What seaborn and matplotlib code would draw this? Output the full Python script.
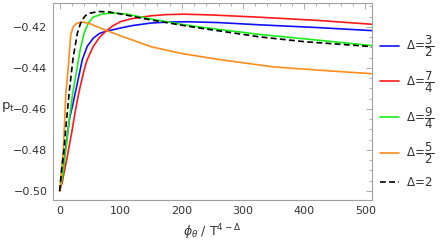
import matplotlib
matplotlib.use("Agg")
import matplotlib.pyplot as plt
import seaborn as sns
import pandas as pd
from matplotlib.ticker import MultipleLocator

# Delta = 3/2 (blue)
x_32 = [0, 4, 8, 12, 16, 22, 29, 37, 45, 55, 65, 75, 90, 100, 120, 150, 180, 210, 260, 328, 420, 510]
y_32 = [-0.500, -0.493, -0.483, -0.474, -0.465, -0.457, -0.4473, -0.436, -0.4295, -0.4255, -0.4232,
        -0.4222, -0.4212, -0.4205, -0.4193, -0.4181, -0.4176, -0.4175, -0.4179, -0.419, -0.4203, -0.4218]
# Delta = 7/4 (red)
x_74 = [0, 4, 8, 12, 15, 20, 25, 31, 35, 40, 45, 55, 65, 75, 88, 100, 116, 149, 175, 203, 250, 328, 420, 510]
y_74 = [-0.500, -0.496, -0.4898, -0.484, -0.479, -0.471, -0.462, -0.4525, -0.4473, -0.441, -0.436,
        -0.4295, -0.4252, -0.4222, -0.4193, -0.4174, -0.4161, -0.4146, -0.4140, -0.4138, -0.4142,
        -0.4153, -0.4168, -0.4187]
# Delta = 9/4 (green)
x_94 = [0, 5, 10, 15, 21, 28, 33, 40, 47, 55, 70, 90, 110, 130, 149, 200, 230, 328, 420, 510]
y_94 = [-0.500, -0.492, -0.480, -0.467, -0.453, -0.441, -0.432, -0.423, -0.418, -0.4152, -0.4137,
        -0.4132, -0.4138, -0.4150, -0.4161, -0.4188, -0.4201, -0.4237, -0.4264, -0.4291]
# Delta = 5/2 (orange)
x_52 = [0, 3, 6, 10, 13, 15, 18, 22, 28, 38, 50, 70, 100, 150, 200, 263, 350, 443, 510]
y_52 = [-0.500, -0.4898, -0.480, -0.453, -0.443, -0.436, -0.424, -0.420, -0.4182, -0.4176, -0.4185,
        -0.421, -0.4244, -0.4297, -0.433, -0.436, -0.4395, -0.4415, -0.4428]
# Delta = 2 (black dashed)
x_2 = [0, 3, 7, 11, 16, 22, 29, 35, 42, 50, 64, 80, 100, 130, 149, 200, 230, 328, 400, 510]
y_2 = [-0.500, -0.490, -0.480, -0.466, -0.4507, -0.435, -0.423, -0.4175, -0.4145, -0.4133, -0.4125,
       -0.4127, -0.4137, -0.4155, -0.4166, -0.4192, -0.4206, -0.4249, -0.4272, -0.4296]

labels = [r"$\Delta\!=\!\dfrac{3}{2}$", r"$\Delta\!=\!\dfrac{7}{4}$", r"$\Delta\!=\!\dfrac{9}{4}$",
          r"$\Delta\!=\!\dfrac{5}{2}$", r"$\Delta\!=\!2$"]
colors = ["#1010ff", "#ff1a1a", "#1aee1a", "#ff8c1a", "black"]
series = [(x_32, y_32), (x_74, y_74), (x_94, y_94), (x_52, y_52), (x_2, y_2)]

sns.set_style("white")
plt.rcParams["mathtext.fontset"] = "dejavusans"

fig = plt.figure(figsize=(4.45, 2.41), dpi=100)
ax = fig.add_axes([0.119, 0.170, 0.717, 0.818])

for (xs, ys), lab, col in zip(series, labels, colors):
    df = pd.DataFrame({"x": xs, "y": ys})
    sns.lineplot(data=df, x="x", y="y", ax=ax, color=col, lw=1.2, label=lab)
ax.lines[-1].set_dashes((3.5, 2))

ax.set_xlim(-11, 511)
ax.set_ylim(-0.5044, -0.4083)
ax.xaxis.set_major_locator(MultipleLocator(100))
ax.xaxis.set_minor_locator(MultipleLocator(20))
ax.yaxis.set_major_locator(MultipleLocator(0.02))
ax.yaxis.set_minor_locator(MultipleLocator(0.005))
ax.yaxis.set_major_formatter(plt.FuncFormatter(lambda v, p: f"{v:.2f}".replace("-", "\u2212")))

for s in ax.spines.values():
    s.set_color("#a0a0a0")
    s.set_linewidth(0.8)
ax.tick_params(which="both", direction="in", top=True, right=True, color="#a0a0a0",
               labelsize=8, labelcolor="#333333", width=0.6)
ax.tick_params(which="major", length=4, pad=4)
ax.tick_params(which="minor", length=2)

ax.set_xlabel(r"$\phi_\theta$ / T$^{4-\Delta}$", fontsize=9, color="#333333", labelpad=5)
ax.set_ylabel(r"p$_\mathregular{t}$", fontsize=9.5, color="#333333", rotation=0, va="center", ha="left")
ax.yaxis.set_label_coords(-0.162, 0.47)

leg = ax.legend(loc="center left", bbox_to_anchor=(1.0, 0.45), frameon=False, fontsize=8.5,
                handlelength=1.6, handletextpad=0.6, labelspacing=0.85, borderaxespad=0.3)
for t in leg.get_texts():
    t.set_color("#333333")

fig.savefig("out.png", dpi=100)
